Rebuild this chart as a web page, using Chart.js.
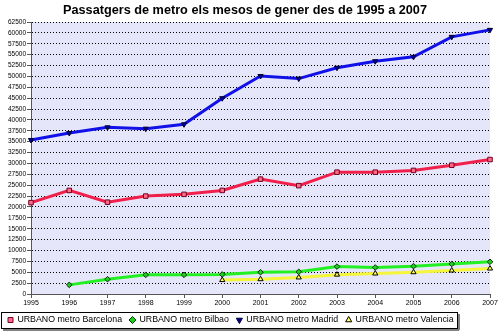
<!DOCTYPE html>
<html>
<head>
<meta charset="utf-8">
<script src="https://cdn.jsdelivr.net/npm/chart.js@4.4.1/dist/chart.umd.min.js"></script>
<style>
  html, body { margin: 0; padding: 0; background: #fff; }
  #wrap { width: 500px; height: 331px; }
</style>
</head>
<body>
<div id="wrap"><canvas id="metro" width="500" height="331"></canvas></div>
<script>
var years = ['1995', '1996', '1997', '1998', '1999', '2000', '2001', '2002', '2003', '2004', '2005', '2006', '2007'];
var barcelona = [21000, 23800, 21100, 22500, 22900, 23800, 26400, 24900, 28000, 28000, 28400, 29600, 30900];
var bilbao = [null, 2100, 3400, 4400, 4400, 4500, 5000, 5100, 6300, 6100, 6400, 6900, 7400];
var madrid = [35400, 37000, 38300, 38000, 39000, 45000, 50100, 49500, 52000, 53500, 54500, 59100, 60700];
var valencia = [null, null, null, null, null, 3200, 3400, 3800, 4450, 4700, 5000, 5400, 5850];

var FONT = 'Arial, "Liberation Sans", sans-serif';

// lavender plot background + framed legend like the excel original
var excelLook = {
    id: 'excelLook',
    beforeDraw: function (chart) {
        var a = chart.chartArea, ctx = chart.ctx;
        ctx.save();
        ctx.fillStyle = '#E6E6FA';
        ctx.fillRect(a.left, a.top, a.right - a.left, a.bottom - a.top);
        ctx.restore();
    },
    afterDraw: function (chart) {
        var boxes = chart.legend.legendHitBoxes;
        if (!boxes || !boxes.length) return;
        var first = boxes[0], last = boxes[boxes.length - 1];
        var x0 = Math.round(first.left - 7), x1 = Math.round(last.left + last.width + 3);
        var y0 = Math.round(first.top - 4), y1 = Math.round(first.top + first.height + 4);
        var ctx = chart.ctx;
        ctx.save();
        ctx.fillStyle = '#808080';
        ctx.fillRect(x0 + 2, y1 + 1, x1 - x0, 2);
        ctx.fillRect(x1 + 1, y0 + 2, 2, y1 - y0);
        ctx.strokeStyle = '#000';
        ctx.lineWidth = 1;
        ctx.strokeRect(x0 + 0.5, y0 + 0.5, x1 - x0, y1 - y0);
        ctx.restore();
    }
};

const ctx = document.getElementById('metro');
new Chart(ctx, {
    type: 'line',
    data: {
        labels: years,
        datasets: [{
            label: 'URBANO metro Barcelona',
            data: barcelona,
            borderColor: '#F0204A',
            borderWidth: 3,
            pointStyle: 'rect',
            pointRadius: 3.2,
            pointBackgroundColor: '#FF6A8A',
            pointBorderColor: '#700020',
            pointBorderWidth: 1
        }, {
            label: 'URBANO metro Bilbao',
            data: bilbao,
            borderColor: '#22F022',
            borderWidth: 3,
            pointStyle: 'rectRot',
            pointRadius: 2.8,
            pointBackgroundColor: '#22CC22',
            pointBorderColor: '#003000',
            pointBorderWidth: 1
        }, {
            label: 'URBANO metro Madrid',
            data: madrid,
            borderColor: '#1010E8',
            borderWidth: 3,
            pointStyle: 'triangle',
            pointRotation: 180,
            pointRadius: 3,
            pointBackgroundColor: '#0000A0',
            pointBorderColor: '#000030',
            pointBorderWidth: 1
        }, {
            label: 'URBANO metro Valencia',
            data: valencia,
            borderColor: '#F5F53A',
            borderWidth: 3,
            pointStyle: 'triangle',
            pointRadius: 3,
            pointBackgroundColor: '#FFFF60',
            pointBorderColor: '#000000',
            pointBorderWidth: 1
        }]
    },
    options: {
        responsive: false,
        animation: false,
        layout: {
            padding: { left: 0, right: 10, top: 0, bottom: 0 }
        },
        elements: {
            line: { tension: 0 }
        },
        plugins: {
            title: {
                display: true,
                text: 'Passatgers de metro els mesos de gener des de 1995 a 2007',
                color: '#000',
                font: { family: FONT, size: 12.7, weight: 'bold' },
                padding: { top: 2.5, bottom: 4.3 }
            },
            legend: {
                position: 'bottom',
                align: 'start',
                maxHeight: 23.4,
                labels: {
                    usePointStyle: true,
                    boxWidth: 5,
                    boxHeight: 5,
                    padding: 8,
                    color: '#000',
                    font: { family: FONT, size: 8.8 }
                }
            },
            tooltip: { enabled: false }
        },
        scales: {
            x: {
                offset: false,
                grid: {
                    drawOnChartArea: false,
                    drawTicks: true,
                    tickLength: 4,
                    tickColor: '#555'
                },
                border: { color: '#555', width: 1 },
                ticks: {
                    color: '#000',
                    padding: 1,
                    maxRotation: 0,
                    autoSkip: false,
                    font: { family: FONT, size: 7 }
                },
                afterFit: function (scale) { scale.height = 13.6; }
            },
            y: {
                min: 0,
                max: 62500,
                grid: {
                    color: '#000',
                    lineWidth: 1,
                    tickLength: 4,
                    tickColor: '#555',
                    tickBorderDash: []
                },
                border: { color: '#555', width: 1, dash: [1, 2] },
                ticks: {
                    stepSize: 2500,
                    color: '#000',
                    padding: 1,
                    autoSkip: false,
                    font: { family: FONT, size: 6.5 },
                    callback: function (value) { return String(value); }
                },
                afterFit: function (scale) { scale.width = 31; }
            }
        }
    },
    plugins: [excelLook]
});
</script>
</body>
</html>
